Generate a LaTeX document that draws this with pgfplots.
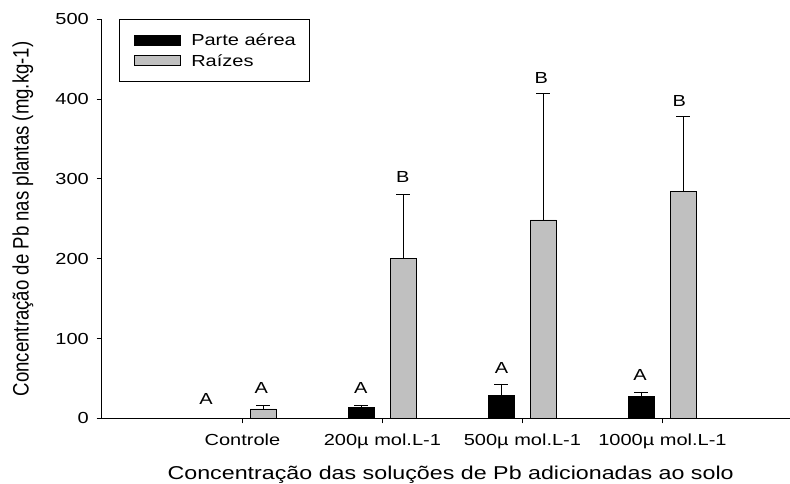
\documentclass[border=0pt]{standalone}
\usepackage{fontspec}
\setmainfont{Liberation Sans}[FakeStretch=1.25]
\newfontfamily\plainsans{Liberation Sans}
\usepackage{pgfplots}
\pgfplotsset{compat=1.18}
\definecolor{bargray}{RGB}{192,192,192}
\newcommand{\sm}{\fontsize{16bp}{19bp}\selectfont}
\begin{document}
\begin{tikzpicture}
\useasboundingbox (-101.7bp,-65.7bp) rectangle (688.3bp,418.3bp);
\begin{axis}[
  at={(0,0)}, anchor=south west,
  scale only axis, width=688.3bp, height=399bp,
  xmin=-1.005, xmax=3.911, ymin=0, ymax=500,
  axis x line*=bottom, axis y line*=left,
  axis line style={line width=0.9bp, black},
  tick align=outside, major tick length=5bp,
  tick style={line width=0.9bp, black},
  xtick={0,1,2,3},
  xticklabels={Controle,200µ mol.L-1,500µ mol.L-1,1000µ mol.L-1},
  ytick={0,100,...,500},
  /pgf/number format/assume math mode=true,
  ticklabel style={font=\sm},
  xticklabel style={yshift=-7bp},
  yticklabel style={xshift=-4.4bp},
  xlabel={Concentração das soluções de Pb adicionadas ao solo},
  xlabel style={font=\fontsize{18.6bp}{22bp}\selectfont, at={(rel axis cs:0.507,-0.1546)}, anchor=base},
  ylabel={\plainsans\scalebox{1}[1.2]{Concentração de Pb nas plantas (mg.kg-1)}},
  ylabel style={font=\fontsize{18.6bp}{22bp}\selectfont, at={(rel axis cs:-0.1143,0.5)}, anchor=center},
  legend style={at={(rel axis cs:0.0256,1)}, anchor=north west, draw=black, line width=0.9bp,
    inner xsep=14bp, inner ysep=15bp, row sep=9.4bp, column sep=10.7bp,
    font=\sm, nodes={inner sep=0pt, text height=11bp, text depth=0bp, anchor=base west}},
  clip=false,
]
\addplot[ybar, bar width=0.186, bar shift=0, fill=black, draw=black, line width=0.8bp,
  legend image code/.code={\draw[fill=black,draw=black,line width=0.8bp] (0bp,0.8bp) rectangle (46bp,10.5bp);},
  error bars/.cd, y dir=plus, y explicit,
  error bar style={line width=0.9bp, black},
  error mark options={rotate=90, mark size=7bp, line width=0.9bp, black}]
  coordinates {(-0.15,0) +- (0,0) (0.85,13.3) +- (0,3) (1.85,28.3) +- (0,14.7) (2.85,27.9) +- (0,5.1)};
\addplot[ybar, bar width=0.186, bar shift=0, fill=bargray, draw=black, line width=0.8bp,
  legend image code/.code={\draw[fill=bargray,draw=black,line width=0.8bp] (0bp,0.8bp) rectangle (46bp,10.5bp);},
  error bars/.cd, y dir=plus, y explicit,
  error bar style={line width=0.9bp, black},
  error mark options={rotate=90, mark size=7bp, line width=0.9bp, black}]
  coordinates {(0.15,11.7) +- (0,4.6) (1.15,200) +- (0,81) (2.15,248.6) +- (0,158.4) (3.15,284) +- (0,94)};
\legend{Parte aérea, Raízes}
\node[font=\sm] at (axis cs:-0.26,24.2) {A};
\node[font=\sm] at (axis cs:0.134,38.3) {A};
\node[font=\sm] at (axis cs:0.846,37.6) {A};
\node[font=\sm] at (axis cs:1.85,63.4) {A};
\node[font=\sm] at (axis cs:2.84,54.3) {A};
\node[font=\sm] at (axis cs:1.146,302) {B};
\node[font=\sm] at (axis cs:2.134,426) {B};
\node[font=\sm] at (axis cs:3.12,398) {B};
\end{axis}
\end{tikzpicture}
\end{document}
